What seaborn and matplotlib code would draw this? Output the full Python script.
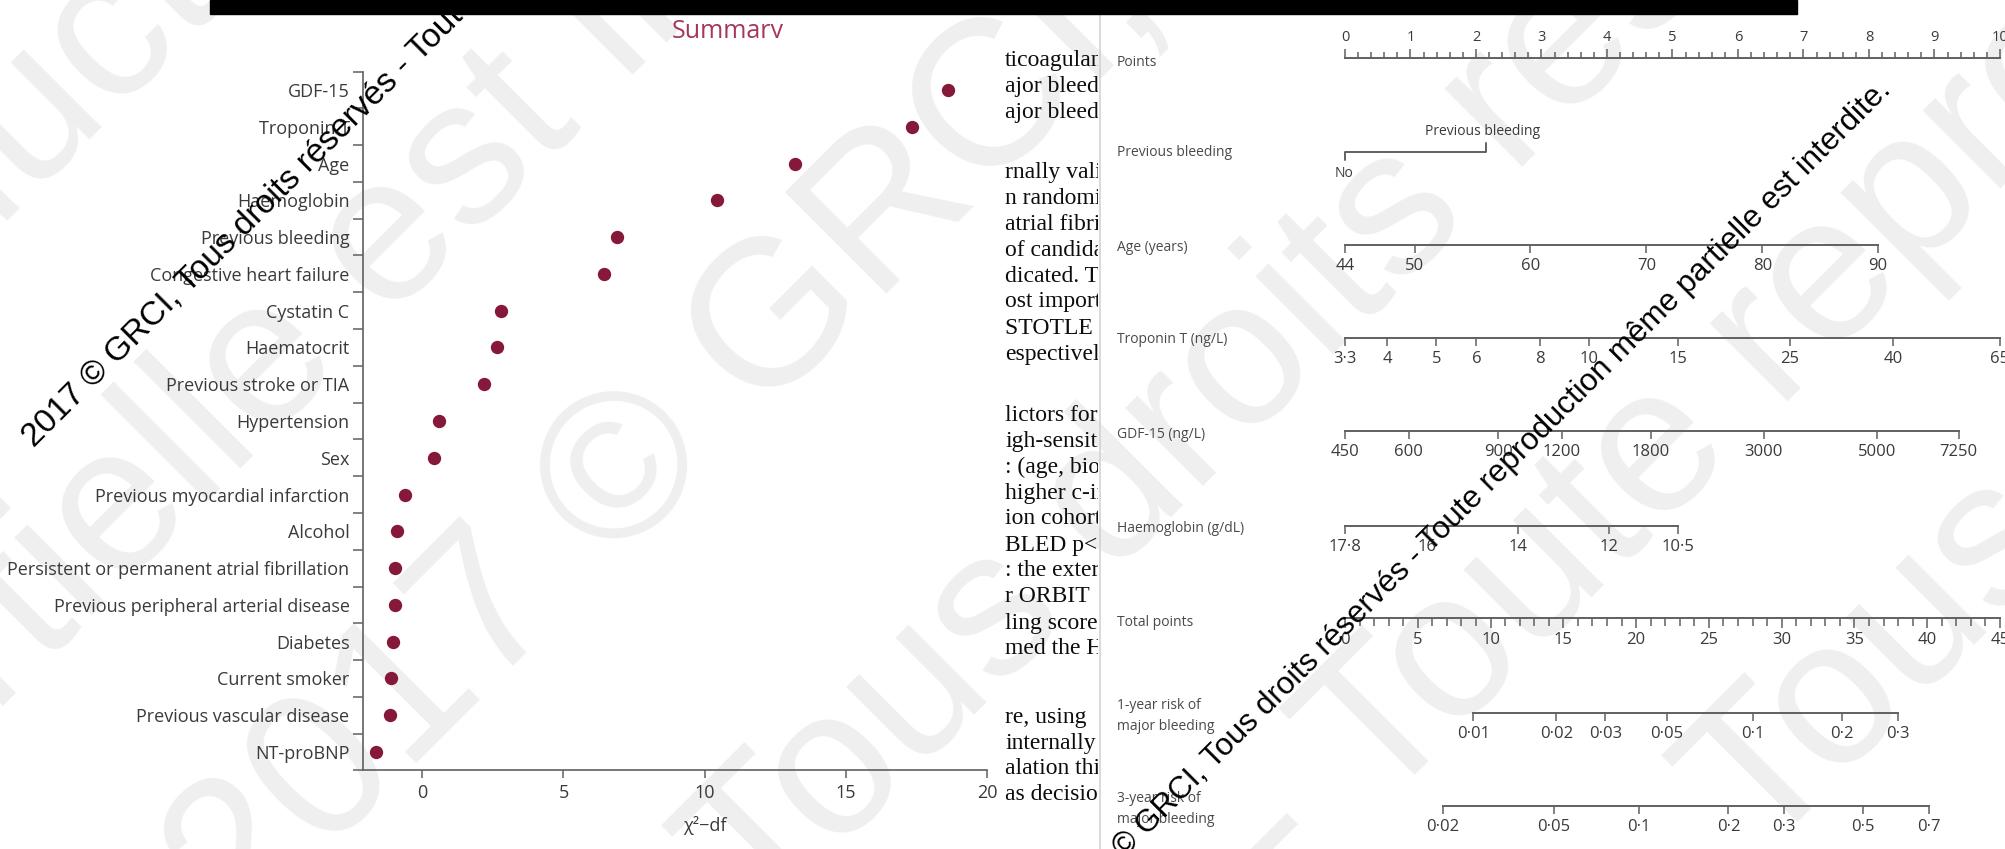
import numpy as np
import matplotlib
matplotlib.use("Agg")
import matplotlib.pyplot as plt
import seaborn as sns
from matplotlib.lines import Line2D
from matplotlib.patches import Rectangle
from matplotlib.ticker import NullLocator, FixedLocator
from matplotlib.transforms import Bbox

# ---------------- data ----------------
# Contribution of each candidate predictor (chi-square minus degrees of freedom)
predictors = [
    "GDF-15", "Troponin T", "Age", "Haemoglobin", "Previous bleeding",
    "Congestive heart failure", "Cystatin C", "Haematocrit", "Previous stroke or TIA",
    "Hypertension", "Sex", "Previous myocardial infarction", "Alcohol",
    "Persistent or permanent atrial fibrillation", "Previous peripheral arterial disease",
    "Diabetes", "Current smoker", "Previous vascular disease", "NT-proBNP",
]
chi2_minus_df = [18.6, 17.35, 13.2, 10.45, 6.9, 6.45, 2.8, 2.65, 2.2,
                 0.6, 0.4, -0.6, -0.9, -0.95, -0.95, -1.05, -1.1, -1.15, -1.65]
chi2_ticks = [0, 5, 10, 15, 20]

# Nomogram scales (points contributed at the top of each scale)
points_ticks = list(range(0, 11))
prev_bleeding_points = 2.15
age_ticks = [44, 50, 60, 70, 80, 90]
age_points_max = 8.14
troponin_ticks = [3.3, 4, 5, 6, 8, 10, 15, 25, 40, 65]
troponin_labels = ["3·3", "4", "5", "6", "8", "10", "15", "25", "40", "65"]
troponin_points_max = 10.0
gdf15_ticks = [450, 600, 900, 1200, 1800, 3000, 5000, 7250]
gdf15_points_max = 9.37
haemoglobin_ticks = [17.8, 16, 14, 12, 10.5]
haemoglobin_labels = ["17·8", "16", "14", "12", "10·5"]
haemoglobin_points_max = 5.08
total_points_ticks = list(range(0, 46, 5))
total_points_max = 45
risk1_ticks = [0.01, 0.02, 0.03, 0.05, 0.1, 0.2, 0.3]
risk1_labels = ["0·01", "0·02", "0·03", "0·05", "0·1", "0·2", "0·3"]
risk3_ticks = [0.02, 0.05, 0.1, 0.2, 0.3, 0.5, 0.7]
risk3_labels = ["0·02", "0·05", "0·1", "0·2", "0·3", "0·5", "0·7"]
# total points = intercept + slope * log(-log(1 - risk))
risk_slope = 8.17
risk1_intercept = 46.4
risk3_intercept = 38.6

# Fragments of the neighbouring text column
column_lines = [
    "ticoagulant", "ajor bleeding", "ajor bleeding",
    "rnally validated", "n randomised", "atrial fibrillation", "of candidate",
    "dicated. The", "ost important", "STOTLE and", "espectively",
    "lictors for", "igh-sensitivity", ": (age, biomarkers", "higher c-index",
    "ion cohort", "BLED p<0·0001", ": the external", "r ORBIT", "ling score",
    "med the HAS", "re, using", "internally", "alation this", "as decision",
]
column_y = [60, 86, 112,
            172, 198, 224, 250, 276, 302, 328, 354,
            415, 441, 467, 493, 519, 545, 571, 597, 623, 649,
            717, 743, 769, 795]

notice = "2017 © GRCI, Tous droits réservés - Toute reproduction même partielle est interdite."

# ---------------- figure ----------------
W, H, DPI = 2006, 849, 100
sns.set_theme(style="white")
plt.rcParams["font.family"] = ["Open Sans", "DejaVu Sans"]

fig = plt.figure(figsize=(W / DPI, H / DPI), dpi=DPI)
fig.patch.set_facecolor("white")


def fx(px):
    return px / W


def fy(py):
    return 1 - py / H


INK = "#3a3a3a"
LINE = "#606060"
MAROON = "#86183a"

# faint background notice, large and diagonal
big_notice = [
    ("reproduction même partielle est interdite.", -395, 625),
    ("partielle est interdite.", -170, 880),
    ("2017 © GRCI, Tous droits réservés", 242, 938),
    ("Tous droits réservés - Toute reproduction", 760, 930),
    ("- Toute reproduction même", 1290, 900),
    ("Tous droits réservés", 1760, 860),
]
for s, x0, y0 in big_notice:
    fig.text(fx(x0), fy(y0), s, fontsize=150, color="#efefef",
             family="Liberation Sans", rotation=45, rotation_mode="anchor",
             ha="left", va="baseline", zorder=-5)

# header bar and section title
fig.add_artist(Rectangle((fx(210), fy(13.5)), fx(1797 - 210), 13.5 / H,
                         transform=fig.transFigure, color="black", zorder=5))
title = fig.text(fx(728), fy(38), "Summary", fontsize=18, color="#a3385a",
                 ha="center", va="baseline", zorder=5)
title.set_clip_box(Bbox.from_extents(0, H - 38, W, H))
title.set_clip_on(True)

# ---------------- left: dot plot ----------------
ax = fig.add_axes([fx(363.5), fy(770.4), fx(987.2 - 363.5), (770.4 - 71.6) / H])
ax.patch.set_visible(False)
sns.stripplot(x=chi2_minus_df, y=predictors, orient="h", jitter=False,
              color=MAROON, size=9.6, linewidth=0, ax=ax, zorder=3)
ax.set_xlim(-2.08, 20)
ax.set_ylim(len(predictors) - 0.5, -0.5)
ax.set_xticks(chi2_ticks)
ax.set_xticklabels([str(t) for t in chi2_ticks])
ax.set_yticks(range(len(predictors)))
ax.set_yticklabels(predictors)
ax.yaxis.set_minor_locator(FixedLocator(np.arange(-0.5, len(predictors), 1.0)))
for s in ("top", "right"):
    ax.spines[s].set_visible(False)
for s in ("left", "bottom"):
    ax.spines[s].set_color(LINE)
    ax.spines[s].set_linewidth(1.2)
ax.tick_params(axis="y", which="major", length=0, pad=10, labelsize=13, labelcolor=INK)
ax.tick_params(axis="y", which="minor", left=True, length=7, width=1.1, color=LINE, direction="out")
ax.tick_params(axis="x", which="major", bottom=True, length=6, width=1.1, color=LINE,
               direction="out", pad=4, labelsize=13, labelcolor=INK)
ax.set_ylabel("")
ax.set_xlabel("χ²−df", fontsize=13, color=INK, labelpad=10)
ax.xaxis.label.set_x((10 - (-2.08)) / (20 - (-2.08)))
ax.grid(False)

# ---------------- middle: clipped text column ----------------
tx = fig.add_axes([fx(1004), 0, fx(1098 - 1004), 1])
tx.set_xlim(1004, 1098)
tx.set_ylim(H, 0)
tx.axis("off")
for s, y in zip(column_lines, column_y):
    tx.text(1005, y, s, fontsize=17, family="Liberation Serif", color="#0d0d0d",
            va="center", ha="left", clip_on=True)

fig.add_artist(Line2D([fx(1100), fx(1100)], [fy(14), 0], transform=fig.transFigure,
                      color="#cfcfcf", lw=1.1))

# ---------------- right: nomogram ----------------
P0, PPX = 1345.0, 65.5   # position of 0 points, pixels per point


def scale_axes(y_line, p_lo, p_hi, height=2.0):
    left = P0 + p_lo * PPX
    a = fig.add_axes([fx(left), fy(y_line), fx((p_hi - p_lo) * PPX), height / H])
    a.patch.set_visible(False)
    for s in ("left", "right", "top"):
        a.spines[s].set_visible(False)
    a.spines["bottom"].set_color(LINE)
    a.spines["bottom"].set_linewidth(1.4)
    a.set_yticks([])
    a.grid(False)
    return a


def style_ticks(a, size=12, length=5.8, pad=3.5):
    a.tick_params(axis="x", which="major", bottom=True, direction="out", length=length,
                  width=1.1, color=LINE, labelsize=size, labelcolor=INK, pad=pad)
    a.xaxis.set_minor_locator(NullLocator())


def row_label(y, text):
    fig.text(fx(1117), fy(y), text, fontsize=10, color="#4a4a4a", ha="left",
             va="center", linespacing=1.6)


# Points ruler: ticks rise from the baseline, labels above
ap = scale_axes(58, 0, 10, height=9)
ap.set_xlim(0, 10)
ap.set_xticks(points_ticks)
ap.set_xticklabels([str(t) for t in points_ticks])
ap.xaxis.set_minor_locator(FixedLocator(np.arange(0, 10.01, 0.2)))
ap.tick_params(axis="x", which="both", bottom=True, top=False, labelbottom=False,
               labeltop=True, direction="in", color=LINE, width=1.1)
ap.tick_params(axis="x", which="major", length=6.5, labelsize=10.5, labelcolor=INK, pad=3)
ap.tick_params(axis="x", which="minor", length=4.3)
row_label(62, "Points")

# Previous bleeding (binary)
ab = fig.add_axes([fx(P0), fy(160), fx(prev_bleeding_points * PPX), 17 / H])
ab.axis("off")
ab.set_xlim(0, prev_bleeding_points)
ab.set_ylim(-1, 1)
ab.plot([0, 0, prev_bleeding_points, prev_bleeding_points], [-1, 0, 0, 1],
        color=LINE, lw=1.4, clip_on=False)
ab.annotate("No", xy=(0, -1), xytext=(-1, -4), textcoords="offset points",
            ha="center", va="top", fontsize=10, color=INK)
ab.annotate("Previous bleeding", xy=(prev_bleeding_points, 1), xytext=(-2, 3),
            textcoords="offset points", ha="center", va="bottom", fontsize=10, color=INK)
row_label(152, "Previous bleeding")

# Age
aa = scale_axes(245, 0, age_points_max)
aa.set_xlim(age_ticks[0], age_ticks[-1])
aa.set_xticks(age_ticks)
aa.set_xticklabels([str(t) for t in age_ticks])
style_ticks(aa)
row_label(247, "Age (years)")

# Troponin T (log scale)
at = scale_axes(338, 0, troponin_points_max)
at.set_xscale("log")
at.set_xlim(troponin_ticks[0], troponin_ticks[-1])
at.set_xticks(troponin_ticks)
at.set_xticklabels(troponin_labels)
style_ticks(at)
row_label(340, "Troponin T (ng/L)")

# GDF-15 (log scale)
ag = scale_axes(431, 0, gdf15_points_max)
ag.set_xscale("log")
ag.set_xlim(gdf15_ticks[0], gdf15_ticks[-1])
ag.set_xticks(gdf15_ticks)
ag.set_xticklabels([str(t) for t in gdf15_ticks])
style_ticks(ag)
row_label(435, "GDF-15 (ng/L)")

# Haemoglobin (decreasing)
ah = scale_axes(526, 0, haemoglobin_points_max)
ah.set_xlim(haemoglobin_ticks[0], haemoglobin_ticks[-1])
ah.set_xticks(haemoglobin_ticks)
ah.set_xticklabels(haemoglobin_labels)
style_ticks(ah)
row_label(528, "Haemoglobin (g/dL)")

# Total points
tot_scale = 10.0 / total_points_max
aT = scale_axes(618, 0, total_points_max * tot_scale)
aT.set_xlim(0, total_points_max)
aT.set_xticks(total_points_ticks)
aT.set_xticklabels([str(t) for t in total_points_ticks])
aT.xaxis.set_minor_locator(FixedLocator(range(total_points_max + 1)))
aT.tick_params(axis="x", which="major", bottom=True, direction="out", length=7,
               width=1.1, color=LINE, labelsize=12, labelcolor=INK, pad=3)
aT.tick_params(axis="x", which="minor", bottom=True, direction="out", length=5.5,
               width=1.1, color=LINE)
row_label(623, "Total points")


def cloglog(r):
    r = np.clip(np.asarray(r, dtype=float), 1e-9, 1 - 1e-9)
    return np.log(-np.log(1 - r))


def inv_cloglog(c):
    return 1 - np.exp(-np.exp(np.asarray(c, dtype=float)))


def risk_row(y_line, ticks, labels, intercept):
    lo = (intercept + risk_slope * cloglog(ticks[0])) * tot_scale
    hi = (intercept + risk_slope * cloglog(ticks[-1])) * tot_scale
    a = scale_axes(y_line, float(lo), float(hi))
    a.set_xscale("function", functions=(cloglog, inv_cloglog))
    a.set_xlim(ticks[0], ticks[-1])
    a.set_xticks(ticks)
    a.set_xticklabels(labels)
    style_ticks(a)
    return a


risk_row(713, risk1_ticks, risk1_labels, risk1_intercept)
row_label(716, "1-year risk of\nmajor bleeding")
risk_row(806, risk3_ticks, risk3_labels, risk3_intercept)
row_label(809, "3-year risk of\nmajor bleeding")

# copyright notice across the page
for x0, y0, size in [(34, 448, 24), (1069, 914, 22.5)]:
    fig.text(fx(x0), fy(y0), notice, fontsize=size, color="black", family="Liberation Sans",
             rotation=45, rotation_mode="anchor", ha="left", va="baseline", zorder=20)

fig.savefig("out.png", dpi=DPI, facecolor="white")
